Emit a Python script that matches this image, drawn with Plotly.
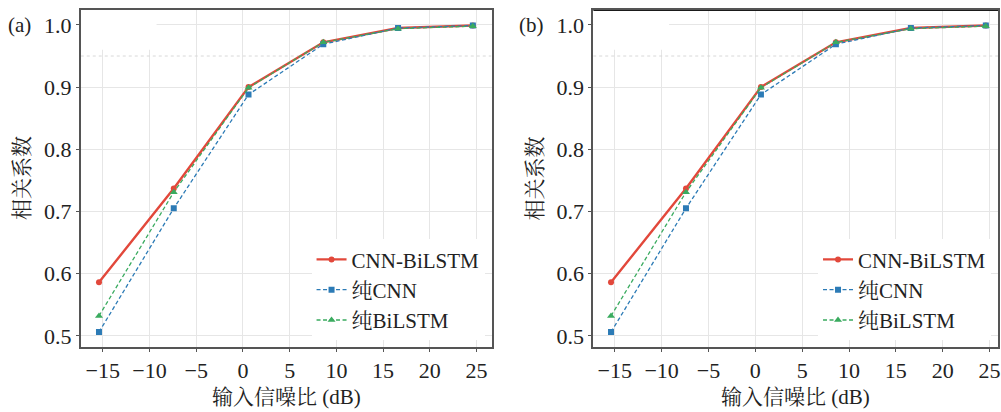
import plotly.graph_objects as go
from plotly.subplots import make_subplots

# Input SNR (dB) of the test sets
snr_db = [-15.4, -7.4, 0.6, 8.6, 16.6, 24.6]

# Correlation coefficient, panel (a)
a_cnn_bilstm = [0.586, 0.737, 0.900, 0.972, 0.995, 0.999]
a_cnn = [0.506, 0.705, 0.888, 0.969, 0.995, 0.999]
a_bilstm = [0.532, 0.731, 0.899, 0.972, 0.994, 0.998]

# Correlation coefficient, panel (b)
b_cnn_bilstm = [0.586, 0.737, 0.900, 0.972, 0.995, 0.999]
b_cnn = [0.506, 0.705, 0.888, 0.969, 0.995, 0.999]
b_bilstm = [0.532, 0.731, 0.899, 0.972, 0.994, 0.998]

series_names = ["CNN-BiLSTM", "纯CNN", "纯BiLSTM"]
panel_labels = ["(a)", "(b)"]
x_title = "输入信噪比 (dB)"
y_title = "相关系数"
y_ticks = [0.5, 0.6, 0.7, 0.8, 0.9, 1.0]
x_ticks = [-15, -10, -5, 0, 5, 10, 15, 20, 25]

RED = "#e2483b"
BLUE = "#2c7bb6"
GREEN = "#3aab5f"
NUM_FONT = "Liberation Serif"
FONT = "Liberation Serif, Noto Serif CJK SC, Noto Sans CJK SC"
TXT = "#222222"

# plot-area geometry (pixels)
W, H = 1001, 412
M_T, M_B = 10, 65
PH = H - M_T - M_B


def py(ypix):
    """Pixel row -> paper y coordinate."""
    return (H - M_B - ypix) / PH


styles = [
    dict(color=RED, width=2.4, dash="solid", symbol="circle", size=6),
    dict(color=BLUE, width=1.3, dash="4px,2.5px", symbol="square", size=6),
    dict(color=GREEN, width=1.3, dash="4px,2.5px", symbol="triangle-up", size=7),
]

fig = make_subplots(rows=1, cols=2, horizontal_spacing=0.0)

panels = [
    [a_cnn_bilstm, a_cnn, a_bilstm],
    [b_cnn_bilstm, b_cnn, b_bilstm],
]

for col, data in enumerate(panels, start=1):
    for name, ys, st in zip(series_names, data, styles):
        fig.add_trace(
            go.Scatter(
                x=snr_db, y=ys, name=name, mode="lines+markers",
                line=dict(color=st["color"], width=st["width"], dash=st["dash"]),
                marker=dict(color=st["color"], symbol=st["symbol"], size=st["size"]),
                legend="legend" if col == 1 else "legend2",
            ),
            row=1, col=col,
        )

axis_common = dict(
    showline=True, linecolor="#555555", linewidth=1.5, mirror=True,
    ticks="outside", ticklen=3, tickcolor="#555555",
    showgrid=True, gridcolor="#e6e6e6", gridwidth=1, zeroline=False,
    tickfont=dict(family=NUM_FONT, size=22, color=TXT),
    ticklabeloverflow="allow",
)

fig.update_xaxes(axis_common)
fig.update_yaxes(axis_common)

XR_A = [-17.35, 26.6]
XR_B = [-17.3, 25.9]
YR = [0.482, 1.024]

fig.update_layout(
    xaxis=dict(domain=[81 / W, 493 / W], range=XR_A, tickvals=x_ticks),
    xaxis2=dict(domain=[595 / W, 1.0], range=XR_B, tickvals=x_ticks),
    yaxis=dict(range=YR, tickvals=y_ticks, tickformat=".1f"),
    yaxis2=dict(range=YR, tickvals=y_ticks, tickformat=".1f"),
)

legend_common = dict(
    font=dict(family=FONT, size=21, color=TXT),
    bgcolor="white", borderwidth=0, itemwidth=30,
    xanchor="right", yanchor="bottom", tracegroupgap=0,
    itemclick=False,
)
fig.update_layout(
    legend=dict(legend_common, x=486 / W, y=0.02),
    legend2=dict(legend_common, x=994 / W, y=0.02),
)

shapes = []
for xr, yr, xrange, x_cut in [("x", "y", XR_A, -9.24), ("x2", "y2", XR_B, -9.2)]:
    # faint dotted reference line at 0.95
    shapes.append(dict(
        type="line", xref=xr, yref=yr, x0=xrange[0], x1=xrange[1], y0=0.95, y1=0.95,
        line=dict(color="#d8d8d8", width=1, dash="dot"), layer="between",
    ))
    # blank patch in the upper-left corner of the plot area
    shapes.append(dict(
        type="rect", xref=xr, yref=yr, x0=xrange[0], x1=x_cut, y0=0.96, y1=YR[1],
        fillcolor="white", line=dict(width=0), layer="between",
    ))
# darker top edge on panel (b)
shapes.append(dict(
    type="line", xref="x2", yref="y2", x0=XR_B[0], x1=XR_B[1], y0=YR[1], y1=YR[1],
    line=dict(color="#1a1a1a", width=2), layer="above",
))
fig.update_layout(shapes=shapes)

annotations = []
for lab, xpix in zip(panel_labels, [20, 533]):
    annotations.append(dict(
        text=lab, x=xpix / W, y=py(25), xref="paper", yref="paper",
        showarrow=False, font=dict(family=FONT, size=21, color=TXT),
        xanchor="center", yanchor="middle",
    ))
for xpix in [287, 798]:
    annotations.append(dict(
        text=x_title, x=xpix / W, y=py(397), xref="paper", yref="paper",
        showarrow=False, font=dict(family=FONT, size=21, color=TXT),
        xanchor="center", yanchor="middle",
    ))
for xpix in [22, 537]:
    annotations.append(dict(
        text=y_title, x=xpix / W, y=py(178), xref="paper", yref="paper",
        showarrow=False, textangle=-90, font=dict(family=FONT, size=21, color=TXT),
        xanchor="center", yanchor="middle",
    ))

fig.update_layout(
    annotations=annotations,
    width=W, height=H,
    margin=dict(l=0, r=0, t=M_T, b=M_B),
    paper_bgcolor="white", plot_bgcolor="white",
    font=dict(family=FONT, size=21, color=TXT),
)

fig.write_html("out.html")
